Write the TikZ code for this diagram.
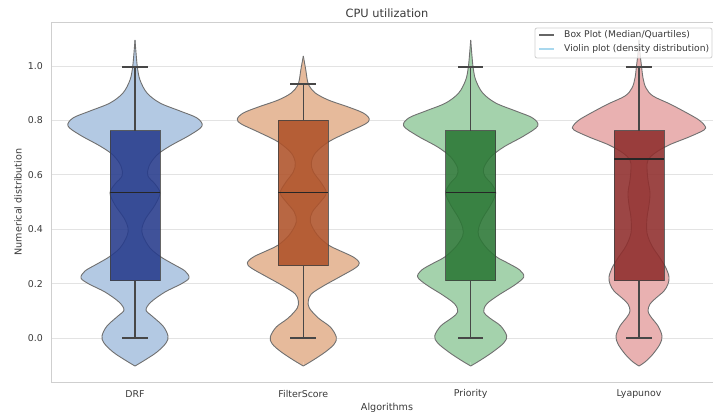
\documentclass[tikz,border=0pt]{standalone}
\usepackage{fontspec}
\setmainfont{DejaVu Sans}
\definecolor{gridc}{HTML}{E3E3E3}
\definecolor{spinec}{HTML}{CFCFCF}
\definecolor{txt}{HTML}{3A3A3A}
\definecolor{vedgec}{HTML}{707070}
\definecolor{vblue}{HTML}{B3C9E3}
\definecolor{bblue}{HTML}{263B8C}
\definecolor{vorange}{HTML}{E6BA9B}
\definecolor{borange}{HTML}{AF5229}
\definecolor{vgreen}{HTML}{A4D2AC}
\definecolor{bgreen}{HTML}{2B7735}
\definecolor{vred}{HTML}{E9B1B1}
\definecolor{bred}{HTML}{8F2D2C}
\definecolor{legblue}{HTML}{A9D8EE}
\tikzset{
  gridline/.style={gridc, line width=0.9pt},
  spine/.style={spinec, line width=1pt},
  vedge/.style={vedgec, line width=0.9pt, line join=round},
  boxst/.style={draw=black!75, draw opacity=0.8, fill opacity=0.88, line width=0.9pt},
  whisk/.style={black!72, line width=1.1pt},
  medline/.style={black!85, line width=1.4pt},
  ticklab/.style={text=txt, font=\fontsize{9.4}{11}\selectfont, inner sep=0pt},
  axlab/.style={text=txt, font=\fontsize{9.6}{11}\selectfont, inner sep=0pt},
  leglab/.style={text=txt, font=\fontsize{9.2}{11}\selectfont, inner sep=0pt, anchor=west},
}
\newcommand\myviolin[5]{% center, right-side list, fill colour, bottom, top
  \foreach \s in {1,-1}{%
    \begin{scope}[shift={(#1,0)},xscale=\s]
      \fill[#3] plot[smooth,tension=0.55] coordinates {#2} -- cycle;
    \end{scope}}
  \draw[#3, line width=1.2pt] (#1,#4-4) -- (#1,#5+4);
  \foreach \s in {1,-1}{%
    \begin{scope}[shift={(#1,0)},xscale=\s]
      \draw[vedge] plot[smooth,tension=0.55] coordinates {#2};
    \end{scope}}}
\newcommand\mybox[8]{% center, top, bottom, median, upper cap, lower cap, colour, cap half
  \draw[whisk] (#1,#2) -- (#1,#5);
  \draw[whisk] (#1,#3) -- (#1,#6);
  \draw[whisk] (#1-#8,#5) -- (#1+#8,#5);
  \draw[whisk] (#1-#8,#6) -- (#1+#8,#6);
  \filldraw[boxst, fill=#7] (#1-25,#2) rectangle (#1+25,#3);
  \draw[medline] (#1-25,#4) -- (#1+25,#4);}
\begin{document}
\begin{tikzpicture}[x=1pt,y=-1pt]
\useasboundingbox (0,0) rectangle (713,416);
\clip (0,0) rectangle (713,416);
\fill[white] (0,0) rectangle (713,416);
% grid
\foreach \v in {0,0.2,0.4,0.6,0.8,1.0}{
  \draw[gridline] (51,{338-272*\v}) -- (713,{338-272*\v});
}
% spines
\draw[spine] (51,22) -- (713,22);
\draw[spine] (51,382) -- (713,382);
\draw[spine] (51,22) -- (51,382);
% violins
\myviolin{135}{(0,366) (10,360) (22,352) (31,343) (33,336) (28,326) (17,316) (11,310) (16,302) (30,292) (46,284) (54,278) (50,271) (38,264) (26,257) (15,248) (8,236) (7,228) (11,218) (20,205) (25,193) (20,184) (13,176) (14,166) (22,155) (35,146) (55,135) (67,126) (62,118) (45,111) (25,103) (12,93) (5,80) (2.5,68) (1.2,55) (0,40)}{vblue}{366}{40}
\myviolin{303.3}{(0,366) (10,360) (22,352) (31,344) (33,337) (27,327) (15,318) (6,308) (5,301) (8,294) (20,286) (38,276) (52,268) (56,263) (50,257) (35,250) (25,245) (14,235) (7,222) (9,212) (17,202) (23,193) (18,183) (10,172) (8,163) (12,153) (25,142) (45,132) (62,124) (66,119) (60,113) (45,107) (25,100) (12,93) (6,86) (4,80) (2.5,70) (0,56)}{vorange}{366}{56}
\myviolin{470.7}{(0,366) (10,360) (22,352) (33,343) (36,336) (30,326) (19,318) (13,312) (16,304) (28,295) (44,285) (53,277) (49,270) (37,263) (26,257) (15,247) (8,236) (8,228) (12,218) (20,205) (25,193) (21,184) (14,176) (13,168) (20,157) (33,147) (53,136) (67,126) (62,118) (45,111) (25,103) (12,93) (5,80) (2.5,68) (1.2,55) (0,40)}{vgreen}{366}{40}
\myviolin{639}{(0,366) (6,362) (14,354) (21,344) (23,336) (19,326) (12,317) (9,311) (11,304) (17,298) (25,291) (29,284) (30,277) (27,268) (21,258) (13,246) (8,233) (8,218) (10,205) (11,193) (9,180) (8,168) (9,160) (16,153) (30,145) (50,137) (65,130) (66,126) (60,120) (48,113) (31,104) (14,96) (7,88) (4,78) (2.5,66) (1.2,55) (0,40)}{vred}{366}{40}
% boxes
\mybox{135}{130.7}{280.7}{192.7}{67}{338}{bblue}{12.7}
\mybox{303.3}{120}{265.7}{192.7}{84}{338}{borange}{13}
\mybox{470.7}{130.7}{280.7}{192.7}{67}{338}{bgreen}{12.7}
\mybox{639}{130.7}{280.7}{159}{67}{338}{bred}{12.8}
% y tick labels
\node[ticklab, anchor=east] (y00) at (43,338) {0.0};
\node[ticklab, anchor=east] (y02) at (43,283.6) {0.2};
\node[ticklab, anchor=east] (y04) at (43,229.2) {0.4};
\node[ticklab, anchor=east] (y06) at (43,174.8) {0.6};
\node[ticklab, anchor=east] (y08) at (43,120.4) {0.8};
\node[ticklab, anchor=east] (y10) at (43,66) {1.0};
% x tick labels
\node[ticklab] (xdrf) at (135,394) {DRF};
\node[ticklab] (xfs) at (303.3,394) {FilterScore};
\node[ticklab] (xpr) at (470.7,394) {Priority};
\node[ticklab] (xly) at (639,394) {Lyapunov};
% axis labels and title
\node[axlab] (xlabel) at (387,408) {Algorithms};
\node[axlab, rotate=90] (ylabel) at (18,202) {Numerical distribution};
\node[text=txt, font=\fontsize{11.4}{13}\selectfont, inner sep=0pt] (title) at (387,13) {CPU utilization};
% legend
\draw[fill=white, fill opacity=0.8, draw=spinec, line width=0.8pt, rounded corners=2pt] (535,28) rectangle (712,58);
\draw[black!60, line width=1.3pt] (539,35) -- (554,35);
\draw[legblue, line width=2pt] (539,49) -- (554,49);
\node[leglab] (leg1) at (564,35) {Box Plot (Median/Quartiles)};
\node[leglab] (leg2) at (564,49) {Violin plot (density distribution)};
\end{tikzpicture}
\end{document}
